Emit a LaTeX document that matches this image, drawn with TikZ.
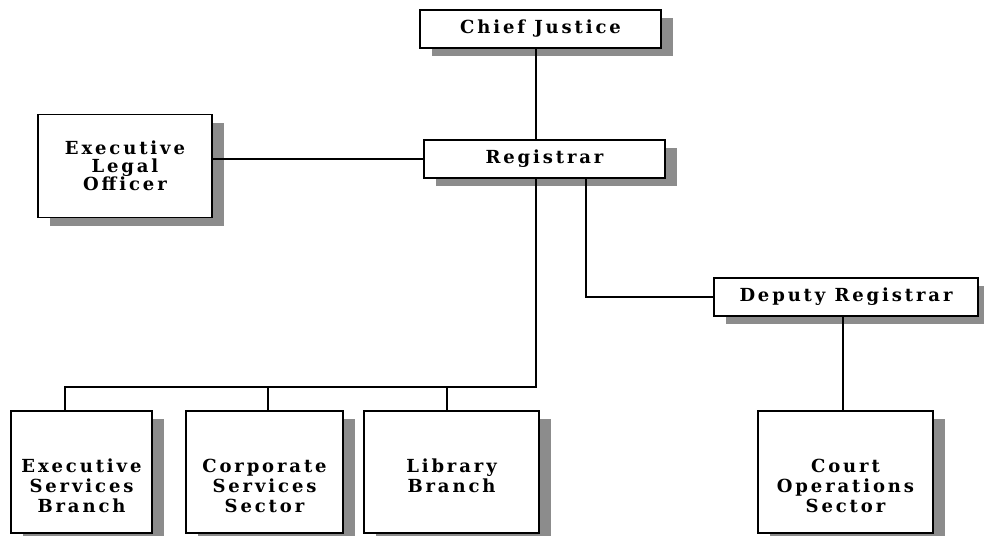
\documentclass[tikz,border=0pt]{standalone}
\usepackage{fontspec}
\usetikzlibrary{shadows}
\newfontfamily\lblfont{DejaVu Serif}[LetterSpace=16]
\definecolor{shadowgray}{HTML}{8C8C8C}
\tikzset{
  orgbox/.style={draw=black, line width=1.6pt, fill=white, rectangle, inner sep=0pt,
    align=center, font=\lblfont\bfseries\fontsize{18}{20}\selectfont,
    general shadow={fill=shadowgray, shadow xshift=12pt, shadow yshift=-8pt}},
  link/.style={draw=black, line width=1.4pt}
}
\begin{document}
\begin{tikzpicture}[x=1pt, y=-1pt]
\useasboundingbox (0,0) rectangle (984,535);
\node[orgbox, minimum width=241pt, minimum height=38pt] (CJ) at (540.5,29) {Chief Justice};
\node[orgbox, minimum width=241pt, minimum height=38pt] (Reg) at (544.5,159) {Registrar};
\node[orgbox, minimum width=174pt, minimum height=103pt, font=\lblfont\bfseries\fontsize{18}{17.5}\selectfont] (ELO) at (125,166) {Executive\\Legal\\Officer};
\node[orgbox, minimum width=264pt, minimum height=38pt] (DR) at (846,297) {Deputy Registrar};
\node[orgbox, minimum width=141pt, minimum height=122pt] (B1) at (81.5,472) {\mbox{}\\[22pt]Executive\\Services\\Branch};
\node[orgbox, minimum width=157pt, minimum height=122pt] (B2) at (264.5,472) {\mbox{}\\[22pt]Corporate\\Services\\Sector};
\node[orgbox, minimum width=175pt, minimum height=122pt] (B3) at (451.5,472) {\mbox{}\\[1pt]Library\\Branch};
\node[orgbox, minimum width=175pt, minimum height=122pt] (B4) at (845.5,472) {\mbox{}\\[22pt]Court\\Operations\\Sector};
\coordinate (trunk) at (536,0);
\coordinate (side) at (586,0);
\coordinate (dep) at (843,0);
\coordinate (d1) at (65,387);
\coordinate (d2) at (268,387);
\coordinate (d3) at (447,387);
\draw[link] (CJ.south -| trunk) -- (Reg.north -| trunk);
\draw[link] (ELO.east |- Reg.west) -- (Reg.west);
\draw[link] (Reg.south -| trunk) -- (trunk |- d1) -- (d1) -- (d1 |- B1.north);
\draw[link] (d2) -- (d2 |- B2.north);
\draw[link] (d3) -- (d3 |- B3.north);
\draw[link] (Reg.south -| side) |- (DR.west);
\draw[link] (DR.south -| dep) -- (B4.north -| dep);
\end{tikzpicture}
\end{document}
